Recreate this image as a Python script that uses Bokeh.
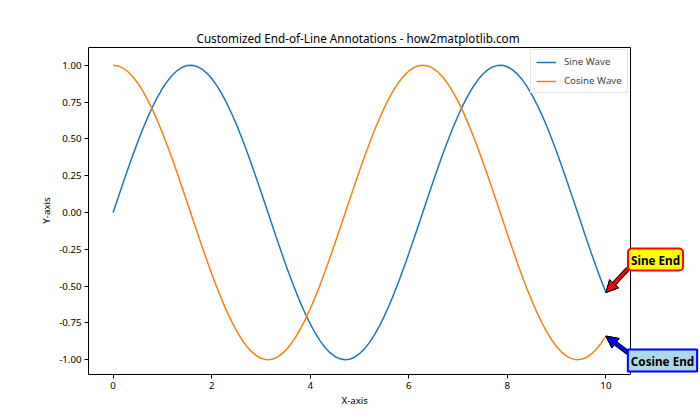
from bokeh.plotting import figure
from bokeh.models import (Range1d, FixedTicker, PrintfTickFormatter, Label, Arrow,
                          NormalHead, Legend, LegendItem, Title)
from bokeh.embed import file_html
from bokeh.resources import INLINE

# ---- data ----
x_vals = [i / 10 for i in range(101)]
sine_vals = [0.0000, 0.0998, 0.1987, 0.2955, 0.3894, 0.4794, 0.5646, 0.6442, 0.7174, 0.7833,
             0.8415, 0.8912, 0.9320, 0.9636, 0.9854, 0.9975, 0.9996, 0.9917, 0.9738, 0.9463,
             0.9093, 0.8632, 0.8085, 0.7457, 0.6755, 0.5985, 0.5155, 0.4274, 0.3350, 0.2392,
             0.1411, 0.0416, -0.0584, -0.1577, -0.2555, -0.3508, -0.4425, -0.5298, -0.6119, -0.6878,
             -0.7568, -0.8183, -0.8716, -0.9162, -0.9516, -0.9775, -0.9937, -0.9999, -0.9962, -0.9825,
             -0.9589, -0.9258, -0.8835, -0.8323, -0.7728, -0.7055, -0.6313, -0.5507, -0.4646, -0.3739,
             -0.2794, -0.1822, -0.0831, 0.0168, 0.1165, 0.2151, 0.3115, 0.4048, 0.4941, 0.5784,
             0.6570, 0.7290, 0.7937, 0.8504, 0.8987, 0.9380, 0.9679, 0.9882, 0.9985, 0.9989,
             0.9894, 0.9699, 0.9407, 0.9022, 0.8546, 0.7985, 0.7344, 0.6630, 0.5849, 0.5010,
             0.4121, 0.3191, 0.2229, 0.1245, 0.0248, -0.0752, -0.1743, -0.2718, -0.3665, -0.4575,
             -0.5440]
cosine_vals = [1.0000, 0.9950, 0.9801, 0.9553, 0.9211, 0.8776, 0.8253, 0.7648, 0.6967, 0.6216,
               0.5403, 0.4536, 0.3624, 0.2675, 0.1700, 0.0707, -0.0292, -0.1288, -0.2272, -0.3233,
               -0.4161, -0.5048, -0.5885, -0.6663, -0.7374, -0.8011, -0.8569, -0.9041, -0.9422, -0.9710,
               -0.9900, -0.9991, -0.9983, -0.9875, -0.9668, -0.9365, -0.8968, -0.8481, -0.7910, -0.7259,
               -0.6536, -0.5748, -0.4903, -0.4008, -0.3073, -0.2108, -0.1122, -0.0124, 0.0875, 0.1865,
               0.2837, 0.3780, 0.4685, 0.5544, 0.6347, 0.7087, 0.7756, 0.8347, 0.8855, 0.9275,
               0.9602, 0.9833, 0.9965, 0.9999, 0.9932, 0.9766, 0.9502, 0.9144, 0.8694, 0.8157,
               0.7539, 0.6845, 0.6084, 0.5261, 0.4385, 0.3466, 0.2513, 0.1534, 0.0540, -0.0460,
               -0.1455, -0.2435, -0.3392, -0.4314, -0.5193, -0.6020, -0.6787, -0.7486, -0.8111, -0.8654,
               -0.9111, -0.9477, -0.9748, -0.9922, -0.9997, -0.9972, -0.9847, -0.9624, -0.9304, -0.8892,
               -0.8391]
series_names = ["Sine Wave", "Cosine Wave"]
x_ticks = [0, 2, 4, 6, 8, 10]
y_ticks = [-1.0, -0.75, -0.5, -0.25, 0.0, 0.25, 0.5, 0.75, 1.0]
annot_texts = ["Sine End", "Cosine End"]
annot_text_canvas = [(655, 259), (662, 360)]
annot_arrow_start = [(10.45, -0.381), (10.45, -0.952)]

# axes box (matplotlib-style limits) and the wider frame that leaves room for the callouts
X0, X1 = -0.5, 10.5
Y0, Y1 = -1.1, 1.12
FRAME_X1 = 11.92
FRAME_Y1 = 1.1268

FONT = "Noto Sans"

p = figure(width=700, height=420, output_backend="svg", toolbar_location=None,
           x_range=Range1d(X0, FRAME_X1), y_range=Range1d(Y0, FRAME_Y1),
           min_border_left=88, min_border_right=0, min_border_top=46, min_border_bottom=46,
           title="Customized End-of-Line Annotations - how2matplotlib.com")
p.title.align = "left"
p.title.offset = 108
p.title.text_font = FONT
p.title.text_font_size = "11.7px"
p.title.text_font_style = "normal"
p.title.text_color = "black"
p.title.standoff = 1

p.xgrid.visible = False
p.ygrid.visible = False
p.outline_line_color = None

for ax in (p.xaxis[0], p.yaxis[0]):
    ax.major_label_text_font = FONT
    ax.major_label_text_font_size = "9.7px"
    ax.major_label_text_color = "black"
    ax.axis_label_text_font = FONT
    ax.axis_label_text_font_size = "9.7px"
    ax.axis_label_text_font_style = "normal"
    ax.axis_label_text_color = "black"
    ax.minor_tick_line_color = None
    ax.major_tick_in = 0
    ax.major_tick_out = 4
    ax.axis_line_color = "black"
    ax.major_tick_line_color = "black"
    ax.major_label_standoff = 3
    ax.axis_label_standoff = 3

p.xaxis.bounds = (X0, X1)
p.yaxis.bounds = (Y0, Y1)
p.yaxis.axis_label = "Y-axis"
p.xaxis.ticker = FixedTicker(ticks=x_ticks)
p.yaxis.ticker = FixedTicker(ticks=y_ticks)
p.yaxis.formatter = PrintfTickFormatter(format="%.2f")

# x-axis label, centred under the axes box rather than the wider frame
xlab = Title(text="X-axis", align="left", offset=253, text_font=FONT,
             text_font_size="9.7px", text_font_style="normal", text_color="black",
             standoff=0)
p.add_layout(xlab, "below")

# top and right spines of the axes box
p.line([X0, X1, X1], [Y1, Y1, Y0], line_color="black", line_width=1)

r_sin = p.line(x_vals, sine_vals, line_color="#1f77b4", line_width=1.5)
r_cos = p.line(x_vals, cosine_vals, line_color="#ff7f0e", line_width=1.5)

legend = Legend(items=[LegendItem(label=series_names[0], renderers=[r_sin]),
                       LegendItem(label=series_names[1], renderers=[r_cos])],
                location=(442, 281), border_line_color="#cccccc", border_line_width=1,
                label_text_font=FONT, label_text_font_size="9.7px",
                glyph_width=20, glyph_height=12, label_height=12,
                spacing=6, padding=5, margin=0, label_standoff=8)
p.add_layout(legend)

colors = [("yellow", "red", "red"), ("lightblue", "blue", "blue")]
radii = [4, 0]
for i in range(2):
    bg, border, arrow_fill = colors[i]
    xs, ys = annot_arrow_start[i]
    xe, ye = x_vals[-1], (sine_vals[-1] if i == 0 else cosine_vals[-1])
    p.add_layout(Arrow(x_start=xs, y_start=ys, x_end=xe, y_end=ye,
                       line_color="black", line_width=5,
                       end=NormalHead(size=12, fill_color=arrow_fill, line_color="black", line_width=1)))
    p.add_layout(Arrow(x_start=xs, y_start=ys, x_end=xe, y_end=ye,
                       line_color=arrow_fill, line_width=3,
                       end=NormalHead(size=12, fill_color=arrow_fill, line_color="black", line_width=1)))
    tx, ty = annot_text_canvas[i]
    p.add_layout(Label(x=tx, y=ty, x_units="canvas", y_units="canvas",
                       text=annot_texts[i], text_align="center",
                       text_baseline="middle", text_font=FONT, text_font_size="11.7px",
                       text_font_style="bold", text_color="black",
                       background_fill_color=bg, border_line_color=border,
                       border_line_width=2, padding=3, border_radius=radii[i]))

open("out.html", "w").write(file_html(p, INLINE))
